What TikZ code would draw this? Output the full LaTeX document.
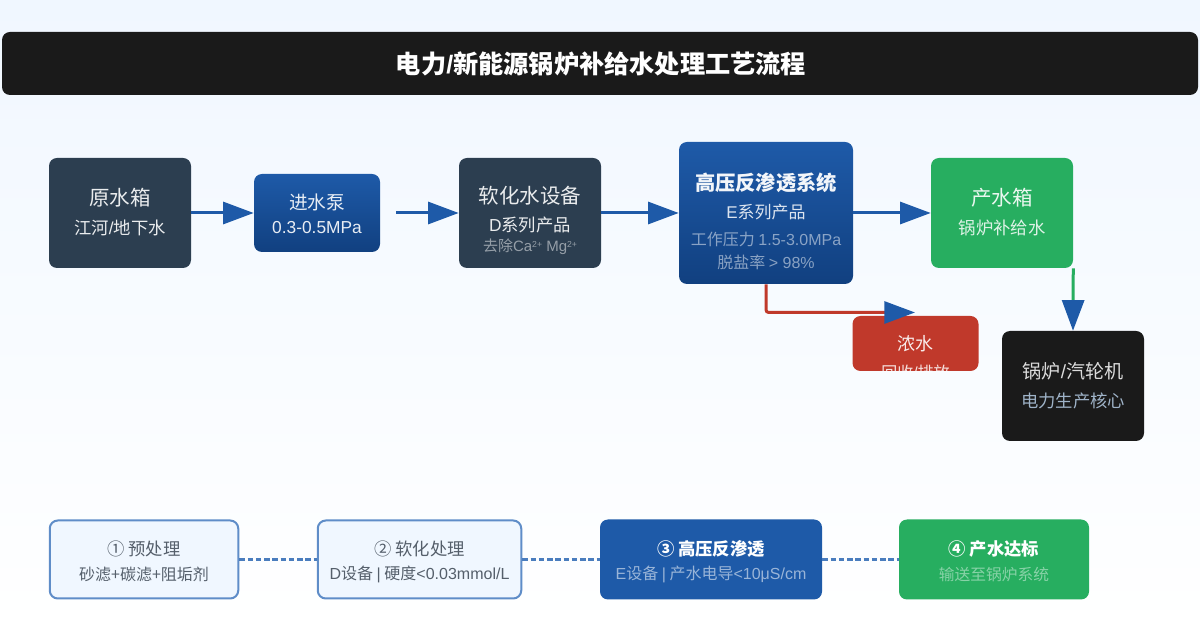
\documentclass[tikz,border=0pt]{standalone}
\usepackage{fontspec}
\setmainfont{Noto Sans CJK SC}
\newfontfamily\lat{Liberation Sans}
\usetikzlibrary{arrows.meta,positioning}

\definecolor{flowblue}{HTML}{1E5AA8}
\definecolor{deepblue}{HTML}{114080}
\definecolor{slatebox}{HTML}{2C3E50}
\definecolor{greenbox}{HTML}{27AE60}
\definecolor{redbox}{HTML}{C0392B}
\definecolor{blackbox}{HTML}{1A1A1A}
\definecolor{palebg}{HTML}{F0F7FF}
\definecolor{stepline}{HTML}{5F8DC8}
\definecolor{stepdashc}{HTML}{4A7DBE}
\definecolor{steptext}{HTML}{555F6B}
\definecolor{boilernote}{HTML}{9FB3C8}

\newcommand{\ionup}{\raisebox{.55ex}{\fontsize{6.5}{7}\selectfont 2+}}

\tikzset{
  sizebox/.style 2 args={minimum width=#1*0.75pt, minimum height=#2*0.75pt, inner sep=0pt, rounded corners=6pt},
  lab/.style={font=\fontsize{#1}{#1}\selectfont, text=white, inner sep=0pt},
  flow/.style={line width=2.25pt, draw=flowblue, -{Triangle[length=23pt,width=16.5pt,color=flowblue]}},
  stepdash/.style={line width=2pt, draw=stepdashc, dash pattern=on 4.2pt off 2pt}
}

\begin{document}
\begin{tikzpicture}[x=0.75pt, y=-0.75pt]
  \path[use as bounding box, top color=palebg, bottom color=white] (0,0) rectangle (1200,630);

  % title
  \node[sizebox={1196}{63}, fill=blackbox] (titlebar) at (600,63.5) {};
  \node[lab=18.9pt, font=\fontsize{18.9}{20}\selectfont\bfseries] (titletext) at (601,63.5) {电力{\lat/}新能源锅炉补给水处理工艺流程};

  % main flow boxes
  \node[sizebox={142}{110}, fill=slatebox] (rawtank) at (120,213) {};
  \node[sizebox={126}{78}, top color=flowblue, bottom color=deepblue] (pump) at (317,213) {};
  \node[sizebox={142}{110}, fill=slatebox] (softener) at (530,213) {};
  \node[sizebox={174}{142}, top color=flowblue, bottom color=deepblue] (ro) at (766,213) {};
  \node[sizebox={142}{110}, fill=greenbox] (prodtank) at (1002,213) {};
  \node[sizebox={126}{55}, fill=redbox] (brine) at (915.5,343.5) {};
  \node[sizebox={142}{110}, fill=blackbox] (boiler) at (1073,386) {};

  % box texts
  \node[lab=15.4pt, text opacity=.9] (rawname) at (120,198) {原水箱};
  \node[lab=13pt, text opacity=.9] (rawsub) at (120,227.5) {江河{\lat/}地下水};
  \node[lab=14pt, text opacity=.9] (pumpname) at (317,202.5) {进水泵};
  \node[lab=13pt, text opacity=.9] (pumpsub) at (317,228) {\lat 0.3-0.5MPa};
  \node[lab=15.4pt, text opacity=.9] (softname) at (530,195.5) {软化水设备};
  \node[lab=13pt, text opacity=.9] (softsub) at (530,224.5) {{\lat D}系列产品};
  \node[lab=11.25pt, text opacity=.5] (softnote) at (530,247) {去除{\lat Ca\ionup{} Mg\ionup}};
  \node[lab=15.2pt, font=\fontsize{15.2}{17}\selectfont\bfseries, text opacity=.95] (roname) at (766,182.5) {高压反渗透系统};
  \node[lab=12.75pt, text opacity=.85] (rosub) at (766,212) {{\lat E}系列产品};
  \node[lab=12pt, text opacity=.5] (ronote) at (766,239) {工作压力 {\lat 1.5-3.0MPa}};
  \node[lab=12pt, text opacity=.5] (rorate) at (766,262) {脱盐率 {\lat > 98\%}};
  \node[lab=15.4pt, text opacity=.9] (prodname) at (1002,198) {产水箱};
  \node[lab=13pt, text opacity=.85] (prodsub) at (1002,227.5) {锅炉补给水};
  \node[lab=13.5pt, text opacity=.9] (brinename) at (915.5,343.5) {浓水};
  \begin{scope}
    \clip (853,316) rectangle (978,371);
    \node[lab=12pt, text opacity=.85] (brinesub) at (915.5,372) {回收{\lat/}排放};
  \end{scope}
  \node[lab=14.3pt, text opacity=.85] (boilername) at (1073,371.5) {锅炉{\lat/}汽轮机};
  \node[lab=13pt, text=boilernote] (boilersub) at (1073,400.5) {电力生产核心};

  % connectors
  \coordinate (brineend) at (915,312.5);
  \draw[flow] (rawtank.east) -- (pump.west);
  \draw[flow, shorten <=12pt] (pump.east) -- (softener.west);
  \draw[flow] (softener.east) -- (ro.west);
  \draw[flow] (ro.east) -- (prodtank.west);
  \draw[flow, draw=redbox, rounded corners=2pt] (ro.south) |- (brineend);
  \draw[flow, draw=greenbox] (prodtank.south east) -- (boiler.north);

  % step boxes
  \node[sizebox={188.5}{78}, fill=palebg, draw=stepline, line width=1.5pt] (step1) at (144,559.5) {};
  \node[sizebox={203.5}{78}, fill=palebg, draw=stepline, line width=1.5pt] (step2) at (419.5,559.5) {};
  \node[sizebox={222}{80}, fill=flowblue] (step3) at (711,559.5) {};
  \node[sizebox={190}{80}, fill=greenbox] (step4) at (994,559.5) {};

  \draw[stepdash] (step1) -- (step2);
  \draw[stepdash] (step2) -- (step3);
  \draw[stepdash] (step3) -- (step4);

  \node[lab=13pt, text=steptext] (step1name) at (144,548.5) {① 预处理};
  \node[lab=12pt, text=steptext] (step1sub) at (144,574.5) {砂滤+碳滤+阻垢剂};
  \node[lab=13pt, text=steptext] (step2name) at (419.5,548.5) {② 软化处理};
  \node[lab=12pt, text=steptext] (step2sub) at (419.5,574.5) {{\lat D}设备 {\lat |} 硬度{\lat <0.03mmol/L}};
  \node[lab=13pt, font=\fontsize{13}{14}\selectfont\bfseries] (step3name) at (711,548.5) {③ 高压反渗透};
  \node[lab=12pt, text opacity=.55] (step3sub) at (711,574.5) {{\lat E}设备 {\lat |} 产水电导{\lat <10μS/cm}};
  \node[lab=13pt, font=\fontsize{13}{14}\selectfont\bfseries] (step4name) at (994,548.5) {④ 产水达标};
  \node[lab=11.8pt, text opacity=.45] (step4sub) at (994,574.5) {输送至锅炉系统};
\end{tikzpicture}
\end{document}
